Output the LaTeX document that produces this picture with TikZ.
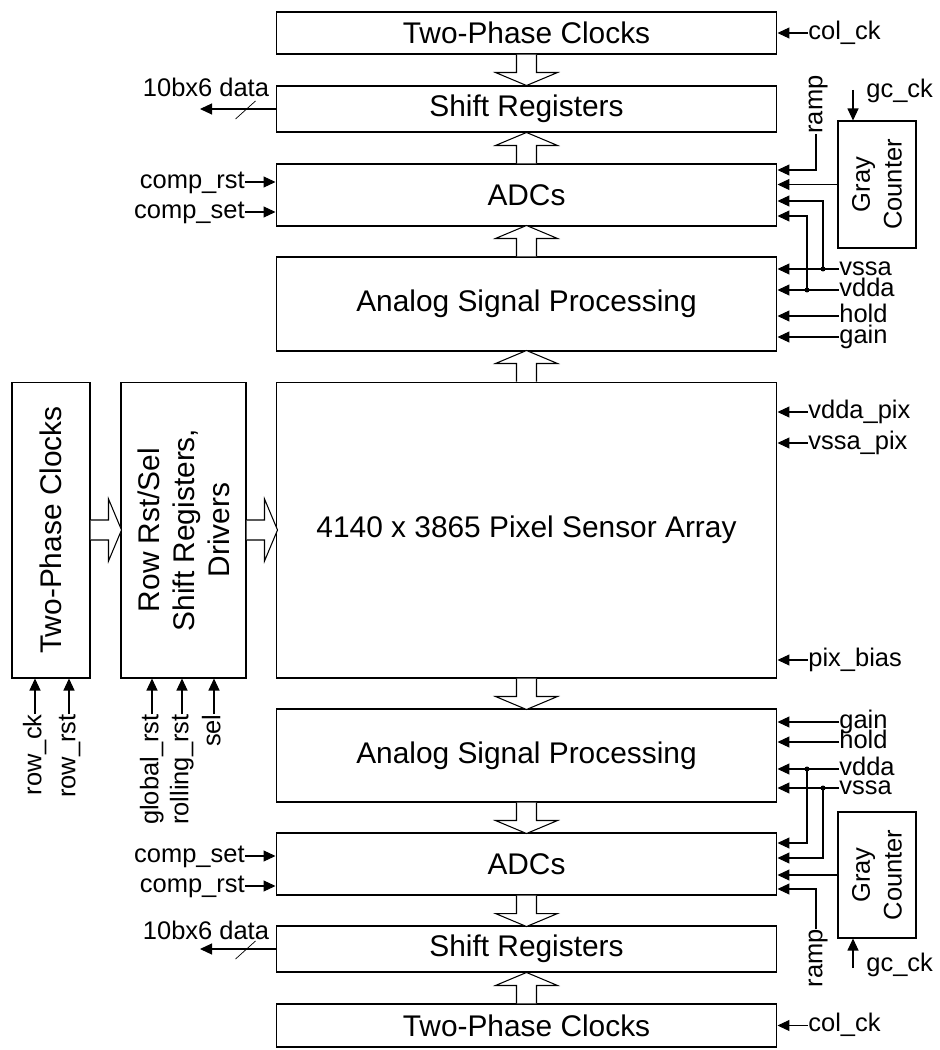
\documentclass[tikz,border=0pt]{standalone}
\usepackage{fontspec}
\setmainfont{Liberation Sans}
\usetikzlibrary{arrows.meta,calc}

\newcommand{\bigtxt}{\fontsize{17}{20}\selectfont}
\newcommand{\smalltxt}{\fontsize{14.5}{18}\selectfont}

\tikzset{
  blk/.style={draw, line width=0.6pt, inner sep=0pt, font=\bigtxt},
  sig/.style={inner sep=0pt, font=\smalltxt, text height=8.8pt, text depth=1.5pt},
  inarr/.style={-{Triangle[length=0.24cm,width=0.22cm]}, line width=0.6pt},
  fatarr/.style={draw, fill=white, line width=0.6pt},
  fatarrow/.pic={\path[fatarr] (-10,0) -- (-10,18) -- (-31,18) -- (0,31) -- (31,18) -- (10,18) -- (10,0);},
}

\begin{document}
\begin{tikzpicture}[x=0.02cm, y=-0.02cm]
\useasboundingbox (0,0) rectangle (939,1050);

% main column
\node[blk, minimum width=10.02cm, minimum height=0.84cm] (tpc1) at (526.5,33) {Two-Phase Clocks};
\node[blk, minimum width=10.02cm, minimum height=0.92cm] (sr1) at (526.5,109) {Shift Registers};
\node[blk, minimum width=10.02cm, minimum height=1.24cm] (adc1) at (526.5,195) {ADCs};
\node[blk, minimum width=10.02cm, minimum height=1.88cm] (asp1) at (526.5,304) {Analog Signal Processing};
\node[blk, minimum width=10.02cm, minimum height=5.92cm] (psa) at (526.5,530) {4140 x 3865 Pixel Sensor Array};
\node[blk, minimum width=10.02cm, minimum height=1.86cm] (asp2) at (526.5,755.5) {Analog Signal Processing};
\node[blk, minimum width=10.02cm, minimum height=1.24cm] (adc2) at (526.5,864) {ADCs};
\node[blk, minimum width=10.02cm, minimum height=0.92cm] (sr2) at (526.5,949) {Shift Registers};
\node[blk, minimum width=10.02cm, minimum height=0.86cm] (tpc2) at (526.5,1025.5) {Two-Phase Clocks};

% row side
\node[blk, minimum width=1.56cm, minimum height=5.92cm,
  label={[rotate=90, font=\bigtxt]center:Two-Phase Clocks}] (tpcv) at (51,530) {};
\node[blk, minimum width=2.5cm, minimum height=5.92cm,
  label={[rotate=90, font=\bigtxt, align=center]center:Row Rst/Sel\\Shift Registers,\\Drivers}] (rowsel) at (183.5,530) {};

% gray counters
\node[blk, minimum width=1.56cm, minimum height=2.54cm,
  label={[rotate=90, font=\smalltxt, align=center]center:Gray\\Counter}] (gc1) at (877,184.5) {};
\node[blk, minimum width=1.56cm, minimum height=2.52cm,
  label={[rotate=90, font=\smalltxt, align=center]center:Gray\\Counter}] (gc2) at (877,875) {};

% block arrows
\pic at (tpc1.south) {fatarrow};
\pic[rotate=180] at (adc1.north) {fatarrow};
\pic[rotate=180] at (asp1.north) {fatarrow};
\pic[rotate=180] at (psa.north) {fatarrow};
\pic at (psa.south) {fatarrow};
\pic at (asp2.south) {fatarrow};
\pic at (adc2.south) {fatarrow};
\pic[rotate=180] at (tpc2.north) {fatarrow};
\pic[rotate=90] at (tpcv.east) {fatarrow};
\pic[rotate=90] at (rowsel.east) {fatarrow};

% data outputs
\coordinate (dout1) at (200,109);
\draw[inarr] (sr1.west) -- (dout1);
\draw ($(sr1.west)+(-40,10)$) -- ++(20,-18);
\node[sig] (data1) at (206,90) {10bx6 data};
\coordinate (dout2) at (200,949);
\draw[inarr] (sr2.west) -- (dout2);
\draw ($(sr2.west)+(-40,10)$) -- ++(20,-18);
\node[sig] (data2) at (206,933) {10bx6 data};

% comparator controls
\node[sig, anchor=east] (crst1) at (245,182) {comp\_rst};
\node[sig, anchor=east] (cset1) at (245,212) {comp\_set};
\node[sig, anchor=east] (cset2) at (245,856) {comp\_set};
\node[sig, anchor=east] (crst2) at (245,886) {comp\_rst};
\draw[inarr] (crst1.east) -- (adc1.west |- crst1.east);
\draw[inarr] (cset1.east) -- (adc1.west |- cset1.east);
\draw[inarr] (cset2.east) -- (adc2.west |- cset2.east);
\draw[inarr] (crst2.east) -- (adc2.west |- crst2.east);

% row controls
\node[sig, rotate=90, anchor=east] (rowck) at (35,714) {row\_ck};
\node[sig, rotate=90, anchor=east] (rowrst) at (69,714) {row\_rst};
\node[sig, rotate=90, anchor=east] (grst) at (152,714) {global\_rst};
\node[sig, rotate=90, anchor=east] (rrst) at (182,714) {rolling\_rst};
\node[sig, rotate=90, anchor=east] (rsel) at (214,714) {sel};
\draw[inarr] (rowck.east) -- (rowck.east |- tpcv.south);
\draw[inarr] (rowrst.east) -- (rowrst.east |- tpcv.south);
\draw[inarr] (grst.east) -- (grst.east |- rowsel.south);
\draw[inarr] (rrst.east) -- (rrst.east |- rowsel.south);
\draw[inarr] (rsel.east) -- (rsel.east |- rowsel.south);

% top right inputs
\node[sig, anchor=west] (colck1) at (808,33) {col\_ck};
\draw[inarr] (colck1.west) -- (tpc1.east |- colck1.west);
\coordinate (gcin1) at (853,90);
\draw[inarr] (gcin1) -- (gcin1 |- gc1.north);
\node[sig, anchor=west] (gcck1) at (866,91) {gc\_ck};
\node[sig, rotate=90, anchor=west] (ramp1) at (816,134) {ramp};
\draw[inarr] (ramp1.west) |- (adc1.east |- 0,170);
\draw[inarr] (gc1.west) -- (adc1.east |- gc1.west);
\node[sig, anchor=west] (vssa1) at (839,269) {vssa};
\node[sig, anchor=west] (vdda1) at (839,290) {vdda};
\node[sig, anchor=west] (hold1) at (839,316) {hold};
\node[sig, anchor=west] (gain1) at (839,337) {gain};
\foreach \s in {vssa1,vdda1,hold1,gain1}
  \draw[inarr] (\s.west) -- (asp1.east |- \s.west);
\fill (vssa1.west -| 823,0) circle (0.05cm);
\fill (vdda1.west -| 807,0) circle (0.05cm);
\draw[inarr] (vssa1.west -| 823,0) |- (adc1.east |- 0,201);
\draw[inarr] (vdda1.west -| 807,0) |- (adc1.east |- 0,216);

% pixel array inputs
\node[sig, anchor=west] (vddapix) at (808,412) {vdda\_pix};
\node[sig, anchor=west] (vssapix) at (808,443) {vssa\_pix};
\node[sig, anchor=west] (pixbias) at (808,660) {pix\_bias};
\foreach \s in {vddapix,vssapix,pixbias}
  \draw[inarr] (\s.west) -- (psa.east |- \s.west);

% bottom right inputs
\node[sig, anchor=west] (gain2) at (839,722) {gain};
\node[sig, anchor=west] (hold2) at (839,742) {hold};
\node[sig, anchor=west] (vdda2) at (839,769) {vdda};
\node[sig, anchor=west] (vssa2) at (839,788) {vssa};
\foreach \s in {gain2,hold2,vdda2,vssa2}
  \draw[inarr] (\s.west) -- (asp2.east |- \s.west);
\fill (vdda2.west -| 807,0) circle (0.05cm);
\fill (vssa2.west -| 823,0) circle (0.05cm);
\draw[inarr] (vdda2.west -| 807,0) |- (adc2.east |- 0,843);
\draw[inarr] (vssa2.west -| 823,0) |- (adc2.east |- 0,858);
\draw[inarr] (gc2.west) -- (adc2.east |- gc2.west);
\node[sig, rotate=90, anchor=east] (ramp2) at (816,929) {ramp};
\draw[inarr] (ramp2.east) |- (adc2.east |- 0,889);
\coordinate (gcin2) at (853,968);
\draw[inarr] (gcin2) -- (gcin2 |- gc2.south);
\node[sig, anchor=west] (gcck2) at (866,965) {gc\_ck};
\node[sig, anchor=west] (colck2) at (808,1025.5) {col\_ck};
\draw[inarr] (colck2.west) -- (tpc2.east |- colck2.west);
\end{tikzpicture}
\end{document}
